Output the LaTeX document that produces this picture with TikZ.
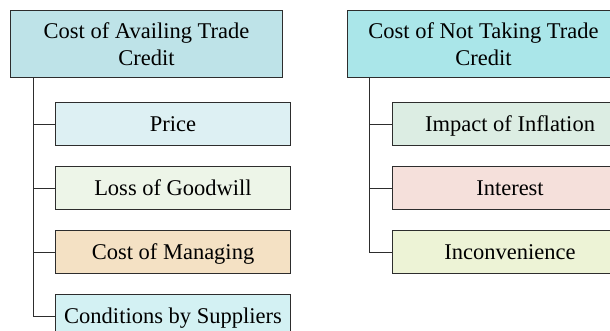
\documentclass[tikz,border=0pt]{standalone}
\usepackage{fontspec}
\setmainfont{Liberation Serif}

\definecolor{headcolL}{RGB}{190,227,232}
\definecolor{headcolR}{RGB}{170,230,233}
\definecolor{pricecol}{RGB}{221,240,243}
\definecolor{goodwillcol}{RGB}{237,245,232}
\definecolor{managecol}{RGB}{244,225,196}
\definecolor{condcol}{RGB}{211,241,243}
\definecolor{inflcol}{RGB}{220,237,227}
\definecolor{interestcol}{RGB}{245,224,219}
\definecolor{inconvcol}{RGB}{237,243,214}
\definecolor{linecol}{RGB}{45,45,45}

\begin{document}
\begin{tikzpicture}[x=1pt,y=-1pt,
  headbox/.style={draw=linecol,line width=1pt,anchor=north west,
    minimum width=272pt,minimum height=67pt,align=center,inner sep=0pt,
    font=\fontsize{22.5}{27}\selectfont},
  itembox/.style={draw=linecol,line width=1pt,anchor=north west,
    minimum width=235pt,minimum height=43pt,inner sep=0pt,
    text height=15pt,text depth=1pt,
    font=\fontsize{22.5}{27}\selectfont},
  branch/.style={draw=linecol,line width=1pt}]
\useasboundingbox (0,0) rectangle (610,330);
\clip (0,0) rectangle (610,330);

% left tree
\node [headbox,fill=headcolL] (availing) at (10,10) {Cost of Availing Trade\\Credit};
\coordinate (trunkL) at (33,77);
\node [itembox,fill=pricecol] (price) at (55,102) {Price};
\node [itembox,fill=goodwillcol] (goodwill) at (55,166) {Loss of Goodwill};
\node [itembox,fill=managecol] (managing) at (55,230) {Cost of Managing};
\node [itembox,fill=condcol] (suppliers) at (55,294) {Conditions by Suppliers};

\draw [branch] (trunkL) |- (suppliers.west);
\foreach \n in {price,goodwill,managing}
  \draw [branch] (trunkL |- \n.west) -- (\n.west);

% right tree
\node [headbox,fill=headcolR] (nottaking) at (347,10) {Cost of Not Taking Trade\\Credit};
\coordinate (trunkR) at (369,77);
\node [itembox,fill=inflcol] (inflation) at (392,102) {Impact of Inflation};
\node [itembox,fill=interestcol] (interest) at (392,166) {Interest};
\node [itembox,fill=inconvcol] (inconv) at (392,230) {Inconvenience};

\draw [branch] (trunkR) |- (inconv.west);
\foreach \n in {inflation,interest}
  \draw [branch] (trunkR |- \n.west) -- (\n.west);
\end{tikzpicture}
\end{document}
